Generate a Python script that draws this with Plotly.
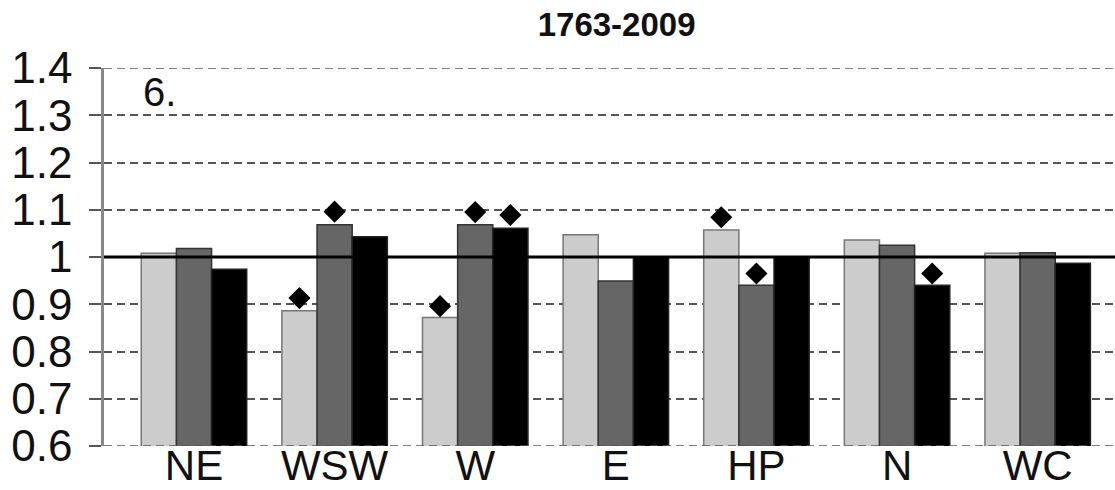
import plotly.graph_objects as go

# ---- data ----
categories = ["NE", "WSW", "W", "E", "HP", "N", "WC"]
series_names = ["Series 1", "Series 2", "Series 3"]
series1 = [1.008, 0.886, 0.872, 1.047, 1.057, 1.036, 1.008]
series2 = [1.018, 1.068, 1.068, 0.949, 0.940, 1.025, 1.009]
series3 = [0.974, 1.043, 1.061, 1.000, 1.000, 0.940, 0.987]
# diamond markers (significance), None where absent
marks1 = [None, 0.913, 0.896, None, 1.084, None, None]
marks2 = [None, 1.096, 1.095, None, 0.965, None, None]
marks3 = [None, None, 1.089, None, None, 0.965, None]
y_ticks = [0.6, 0.7, 0.8, 0.9, 1.0, 1.1, 1.2, 1.3, 1.4]
y_tick_labels = ["0.6", "0.7", "0.8", "0.9", "1", "1.1", "1.2", "1.3", "1.4"]
reference_value = 1.0
title_text = "1763-2009"
panel_label = "6."

fill_colors = ["#cccccc", "#666666", "#000000"]
edge_colors = ["#777777", "#333333", "#222222"]
grid_color = "#555555"
grid_dash = "8px,5px"

fig = go.Figure()
for name, vals, fc, ec, grp in zip(series_names, [series1, series2, series3],
                                    fill_colors, edge_colors, ["a", "b", "c"]):
    fig.add_trace(go.Bar(
        x=categories, y=vals, name=name, offsetgroup=grp,
        marker=dict(color=fc, line=dict(color=ec, width=1.5)),
        showlegend=False,
    ))

for vals, grp in zip([marks1, marks2, marks3], ["a", "b", "c"]):
    fig.add_trace(go.Scatter(
        x=categories, y=vals, mode="markers", offsetgroup=grp,
        marker=dict(symbol="diamond", size=17, color="black"),
        showlegend=False, cliponaxis=False,
    ))

# gridlines at the range ends (plotly omits them at the plot edges)
for yv in (y_ticks[0], y_ticks[-1]):
    fig.add_shape(type="line", xref="paper", x0=0, x1=1, yref="y",
                  y0=yv, y1=yv, layer="above",
                  line=dict(color=grid_color, width=1.5, dash=grid_dash))

fig.add_shape(type="line", xref="paper", x0=0, x1=1, yref="y",
              y0=reference_value, y1=reference_value,
              line=dict(color="black", width=3), layer="above")

fig.add_annotation(text=panel_label, xref="paper", yref="paper",
                   x=0.037, y=1.0, xanchor="left", yanchor="top",
                   showarrow=False, font=dict(size=40, color="#111"))

fig.update_layout(
    width=1115, height=490,
    margin=dict(l=104, r=0, t=68, b=44),
    paper_bgcolor="white", plot_bgcolor="white",
    barmode="group", bargap=0.25, bargroupgap=0,
    scattermode="group", scattergap=0.25,
    font=dict(family="Liberation Sans, Arial, sans-serif", color="#111"),
    title=dict(text="<b>" + title_text + "</b>", x=0.553, xanchor="center",
               y=0.95, yanchor="middle",
               font=dict(size=33, color="#111")),
    xaxis=dict(range=[-0.64, 6.55], showgrid=False, showline=False,
               zeroline=False, ticks="", tickfont=dict(size=42),
               ticklabelstandoff=-9, automargin=False),
    yaxis=dict(range=[0.6, 1.4], tickvals=y_ticks, ticktext=y_tick_labels,
               showgrid=True, gridcolor=grid_color, griddash=grid_dash,
               gridwidth=1.5, showline=True, linecolor="#888888",
               linewidth=2.5, ticks="outside", ticklen=12, tickwidth=1.5,
               tickcolor=grid_color, tickfont=dict(size=44),
               zeroline=False, ticklabelstandoff=8, automargin=False),
)

fig.write_html("out.html")
